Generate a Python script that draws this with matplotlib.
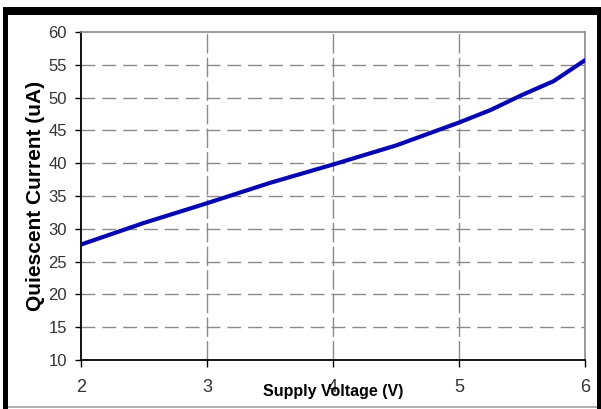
import matplotlib
matplotlib.use("Agg")
import matplotlib.pyplot as plt
from matplotlib.patches import Rectangle

plt.rcParams['font.family'] = ['Liberation Sans', 'DejaVu Sans']

# supply voltage (V) vs quiescent current (uA)
voltage = [2.0, 2.5, 3.0, 3.5, 4.0, 4.5, 5.0, 5.25, 5.5, 5.75, 6.0]
current = [27.6, 30.9, 33.9, 37.0, 39.8, 42.7, 46.2, 48.1, 50.4, 52.5, 55.7]

x_ticks = [2, 3, 4, 5, 6]
y_ticks = [10, 15, 20, 25, 30, 35, 40, 45, 50, 55, 60]

W, H = 601, 409
fig = plt.figure(figsize=(W / 100, H / 100), dpi=100)
fig.patch.set_facecolor('white')

ax = fig.add_axes([81 / W, 1 - 360 / H, (585 - 81) / W, (360 - 32) / H])

# grid: dashed gray, solid border at top/right
for v in y_ticks[1:-1]:
    ax.axhline(v, color='#8a8a8a', lw=1.0, dashes=(10, 5), zorder=1)
for v in x_ticks[1:-1]:
    ax.axvline(v, color='#8a8a8a', lw=1.0, dashes=(14, 3), zorder=1)

ax.plot(voltage, current, color='#0606b0', lw=3.0, solid_capstyle='round', zorder=3)

ax.set_xlim(2, 6)
ax.set_ylim(10, 60)
ax.set_xticks(x_ticks)
ax.set_yticks(y_ticks)

for side in ('top', 'right'):
    ax.spines[side].set_color('#8a8a8a')
    ax.spines[side].set_linewidth(1.2)
for side in ('left', 'bottom'):
    ax.spines[side].set_color('black')
    ax.spines[side].set_linewidth(1.3)

ax.tick_params(axis='y', direction='out', length=4, width=1, pad=6,
               labelsize=12, labelcolor='#333333')
ax.tick_params(axis='x', direction='out', length=5, width=1, pad=9,
               labelsize=13, labelcolor='#333333')

# the x label sits on the tick row, over the "4", as in the original
ax.set_xlabel('Supply Voltage (V)', fontsize=11.5, fontweight='bold')
ax.xaxis.set_label_coords(0.5, -0.072)
ax.set_ylabel('Quiescent Current (uA)', fontsize=15, fontweight='bold')
ax.yaxis.set_label_coords(-0.071, 0.5)

# black picture frame around the chart
def frame(x0, y0, x1, y1, color):
    fig.add_artist(Rectangle((x0 / W, 1 - y1 / H), (x1 - x0) / W, (y1 - y0) / H,
                             transform=fig.transFigure, color=color, lw=0))

frame(3, 7, W, 15, 'black')
frame(3, 7, 8, H, 'black')
frame(597, 7, W, H, 'black')
frame(8, 406, 597, 408, '#b0b0b0')

fig.savefig('out.png', dpi=100)
